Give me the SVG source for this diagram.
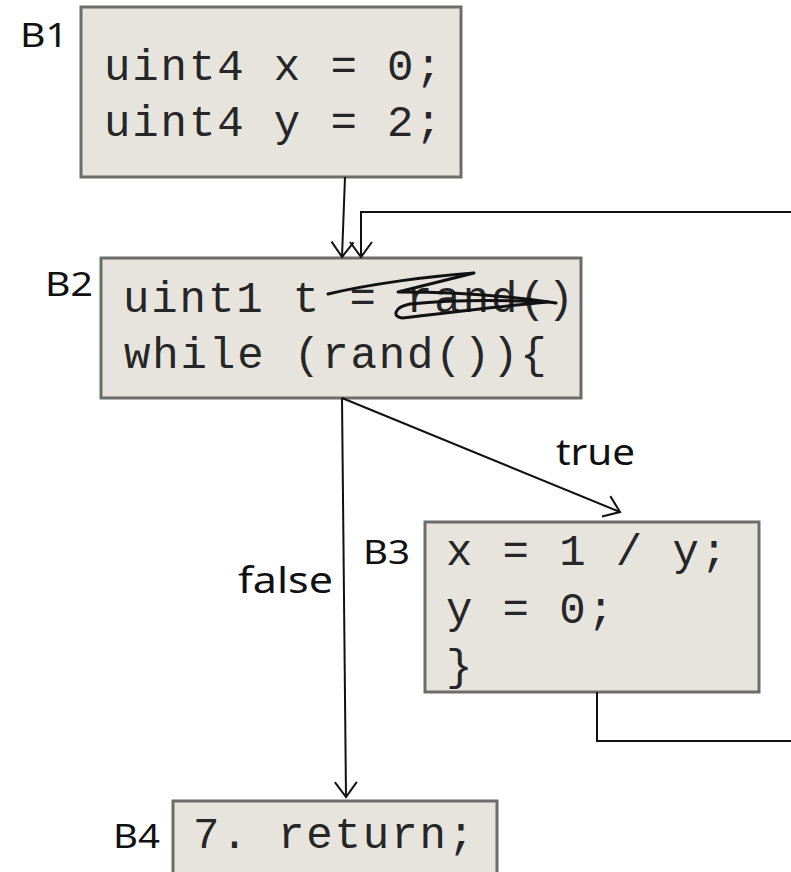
<svg xmlns="http://www.w3.org/2000/svg" width="791" height="872" viewBox="0 0 791 872">
  <style>
    .box { fill: #e7e4de; stroke: #6d6d69; stroke-width: 3; }
    .code { font-family: "Liberation Mono", "Courier New", monospace; font-size: 44px; letter-spacing: 1.9px; fill: #262626; }
    .blabel { font-family: "Noto Sans", "DejaVu Sans", sans-serif; font-size: 32px; fill: #111; }
    .elabel { font-family: "Noto Sans", "DejaVu Sans", sans-serif; font-size: 36px; fill: #111; }
    .edge { fill: none; stroke: #111; stroke-width: 2; }
    .scribble { fill: none; stroke: #111; stroke-width: 3; stroke-linecap: round; stroke-linejoin: round; }
  </style>
  <defs>
    <marker id="open-arrow" markerUnits="userSpaceOnUse" markerWidth="20" markerHeight="26" refX="16" refY="12" orient="auto" viewBox="0 0 20 24">
      <path d="M1,1 L16,12 L1,23" fill="none" stroke="#111" stroke-width="2"/>
    </marker>
  </defs>

  <rect width="791" height="872" fill="#ffffff"/>

  <!-- basic blocks -->
  <g id="B1">
    <rect class="box" x="81" y="7" width="380" height="170"/>
    <text class="blabel" x="20" y="47" textLength="48" lengthAdjust="spacingAndGlyphs">B1</text>
    <text class="code" x="104" y="80">uint4 x = 0;</text>
    <text class="code" x="104" y="136">uint4 y = 2;</text>
  </g>

  <g id="B2">
    <rect class="box" x="101" y="258" width="480" height="140"/>
    <text class="blabel" x="45" y="296" textLength="48" lengthAdjust="spacingAndGlyphs">B2</text>
    <text class="code" x="123" y="312">uint1 t = rand()</text>
    <text class="code" x="124" y="368">while (rand()){</text>
    <!-- hand-drawn strike-through over the initialiser -->
    <path class="scribble" d="M328,294 C370,284 430,276 474,273 L398,292 C450,292 505,295 556,303"/>
    <path class="scribble" d="M548,302 C500,306 445,313 402,318 C392,317 394,307 410,304 C450,300 505,300 548,302"/>
  </g>

  <g id="B3">
    <rect class="box" x="425" y="522" width="334" height="170"/>
    <text class="blabel" x="363" y="564" textLength="47" lengthAdjust="spacingAndGlyphs">B3</text>
    <text class="code" x="446" y="565">x = 1 / y;</text>
    <text class="code" x="446" y="623">y = 0;</text>
    <text class="code" x="446" y="680">}</text>
  </g>

  <g id="B4">
    <rect class="box" x="173" y="801" width="324" height="90"/>
    <text class="blabel" x="113" y="848" textLength="47" lengthAdjust="spacingAndGlyphs">B4</text>
    <text class="code" x="193" y="848">7. return;</text>
  </g>

  <!-- control-flow edges -->
  <g id="edges">
    <path class="edge" d="M345,177 L342,257" marker-end="url(#open-arrow)"/>
    <path class="edge" d="M597,692 V741 H800 V212 H361 V257" marker-end="url(#open-arrow)"/>
    <path class="edge" d="M342,398 L620,512" marker-end="url(#open-arrow)"/>
    <path class="edge" d="M342,398 L346,797" marker-end="url(#open-arrow)"/>
    <text class="elabel" x="556" y="465" textLength="79" lengthAdjust="spacingAndGlyphs">true</text>
    <text class="elabel" x="238" y="593" textLength="95" lengthAdjust="spacingAndGlyphs">false</text>
  </g>
</svg>
